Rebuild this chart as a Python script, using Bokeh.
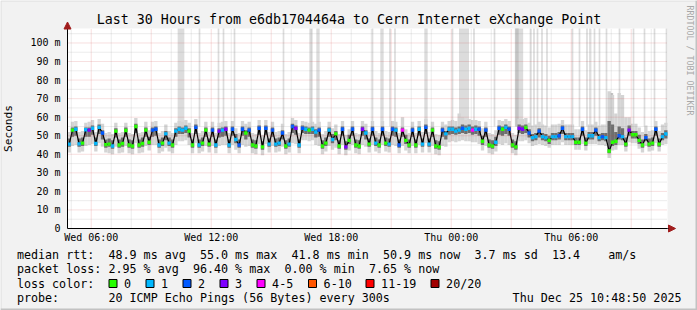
import numpy as np
from bokeh.plotting import figure
from bokeh.models import Range1d, FixedTicker, LinearAxis, Arrow, NormalHead
from bokeh.embed import file_html
from bokeh.resources import INLINE
from bokeh.core.properties import value

FONT = "DejaVu Sans Mono"
BG = "#f2f2f2"
ARROW_COLOR = "#a11d1d"

title_text = "Last 30 Hours from e6db1704464a to Cern Internet eXchange Point"
credit_text = "RRDTOOL / TOBI OETIKER"

# time axis: hours since Wed 00:00; graph ends Thu 10:48:50
start_h = 4 + 48 / 60 + 50 / 3600
span_h = 30.0
step_min = 10
y_top = 107.8

# median rtt (ms) per 10-minute step
median_ms = (
    [45.5, 53.0, 53.5, 45.6, 46.0, 53.2, 53.0, 54.0, 45.8, 54.5, 51.5, 45.2, 45.5, 44.5, 52.5,
     45.0, 45.8, 52.8, 45.0, 44.5, 55.0, 45.0, 45.8, 53.0, 46.5, 53.0, 53.5, 45.0, 46.0, 51.0]
    + [46.0, 45.0, 52.5, 53.5, 53.0, 54.0, 52.5, 45.0, 54.5, 45.0, 46.0, 53.0, 45.5, 53.0, 45.0,
       52.5, 53.0, 53.5, 45.0, 53.5, 48.0, 45.0, 53.5, 51.5, 53.0, 45.0, 44.5, 54.0, 44.0, 54.0]
    + [45.5, 53.0, 45.5, 46.0, 51.5, 44.5, 45.5, 55.0, 54.0, 45.0, 54.0, 53.5, 53.0, 53.5, 52.0,
       53.0, 44.5, 46.0, 53.0, 48.0, 51.0, 44.5, 53.5, 44.0, 47.5, 53.5, 45.0, 44.5, 53.5, 51.5]
    + [45.5, 53.5, 46.0, 45.0, 53.5, 46.0, 45.5, 53.5, 53.0, 45.0, 53.0, 47.5, 45.0, 53.0, 45.0,
       53.5, 45.5, 54.5, 45.5, 53.0, 44.5, 44.0, 53.0, 51.0, 53.5, 53.5, 52.5, 53.0, 54.0, 53.5]
    + [54.0, 53.0, 53.5, 53.5, 47.0, 53.0, 45.0, 44.5, 46.5, 54.0, 53.5, 54.5, 53.5, 45.0, 44.0,
       54.0, 53.5, 54.5, 51.5, 49.0, 49.5, 52.5, 49.5, 49.0, 47.5, 49.5, 49.5, 50.0, 54.0, 49.5]
    + [49.5, 49.5, 46.5, 46.5, 53.5, 46.0, 50.0, 50.0, 53.0, 49.0, 49.5, 49.0, 41.8, 46.5, 47.0,
       50.0, 49.5, 45.5, 53.0, 50.5, 50.5, 47.5, 45.0, 49.0, 45.5, 46.0, 53.5, 45.5, 49.5, 50.9]
)

# lost pings (of 20) per step
lost_pings = (
    [1, 0, 1, 1, 0, 1, 3, 1, 1, 1, 2, 0, 0, 1, 0, 0, 0, 0, 0, 0, 0, 0, 0, 0, 0, 2, 2, 1, 0, 1]
    + [1, 0, 1, 1, 1, 1, 0, 0, 2, 1, 0, 0, 0, 2, 1, 3, 1, 3, 1, 2, 1, 2, 2, 0, 2, 0, 0, 2, 0, 2]
    + [1, 2, 1, 1, 2, 0, 1, 2, 3, 1, 2, 1, 0, 1, 1, 2, 0, 0, 1, 1, 0, 0, 2, 3, 0, 2, 0, 0, 3, 1]
    + [0, 2, 1, 0, 2, 0, 1, 2, 1, 2, 4, 0, 0, 2, 0, 1, 1, 2, 1, 0, 0, 0, 2, 1, 1, 1, 1, 1, 2, 1]
    + [1, 4, 1, 2, 0, 2, 0, 0, 1, 2, 0, 1, 2, 0, 0, 3, 3, 0, 2, 1, 1, 2, 1, 1, 0, 1, 1, 2, 2, 1]
    + [1, 1, 0, 0, 2, 0, 1, 1, 2, 1, 2, 1, 0, 0, 0, 2, 1, 0, 3, 0, 0, 0, 0, 2, 0, 0, 2, 0, 1, 1]
)

# smoke: outer range of the 20 pings (ms)
smoke_min = (
    [41.0, 44.5, 45.0, 41.0, 41.5, 44.5, 45.0, 45.5, 41.5, 46.0, 44.0, 41.0, 40.5, 40.0, 44.0,
     40.5, 41.0, 44.5, 40.5, 40.0, 46.0, 40.5, 41.0, 44.5, 42.0, 45.0, 45.0, 40.5, 41.5, 43.5]
    + [41.5, 40.5, 45.0, 47.0, 47.0, 47.5, 45.0, 40.5, 46.0, 40.5, 41.5, 44.5, 41.0, 44.5, 40.5,
       44.5, 45.0, 45.0, 40.5, 45.0, 42.5, 40.5, 45.0, 44.0, 44.5, 40.5, 40.0, 45.5, 39.5, 45.5]
    + [41.0, 44.5, 41.0, 41.5, 44.0, 40.0, 41.0, 46.0, 45.5, 40.5, 47.5, 47.5, 47.0, 47.5, 45.0,
       44.5, 40.0, 41.5, 44.5, 42.5, 43.5, 40.0, 45.0, 39.5, 42.0, 45.0, 40.5, 40.0, 45.0, 44.0]
    + [41.0, 45.0, 41.5, 40.5, 45.0, 41.5, 41.0, 45.0, 44.5, 40.5, 44.5, 42.0, 40.5, 44.5, 40.5,
       45.0, 41.0, 46.0, 41.0, 44.5, 40.0, 39.5, 44.5, 44.0, 46.5, 47.0, 46.5, 47.0, 47.5, 47.0]
    + [47.0, 46.5, 46.5, 45.5, 42.0, 44.5, 40.5, 40.0, 41.5, 45.5, 45.0, 46.0, 45.0, 40.5, 39.5,
       47.0, 47.0, 47.5, 46.0, 44.5, 45.0, 45.5, 45.0, 44.5, 43.5, 45.0, 45.0, 45.0, 46.5, 45.0]
    + [45.0, 45.0, 42.5, 42.5, 45.5, 42.0, 45.5, 45.5, 45.5, 45.0, 45.0, 44.5, 38.0, 42.0, 42.5,
       45.0, 45.0, 41.5, 46.5, 46.0, 46.0, 43.0, 41.0, 44.5, 41.5, 42.0, 46.0, 41.5, 45.0, 45.5]
)
smoke_max = (
    [52.0, 57.5, 58.0, 52.0, 52.5, 57.0, 57.5, 58.5, 52.0, 59.0, 56.5, 51.5, 52.0, 51.0, 57.0,
     51.5, 52.0, 57.0, 51.5, 51.0, 59.5, 51.5, 52.0, 57.5, 53.0, 57.5, 58.0, 51.5, 52.5, 56.0]
    + [52.5, 51.5, 57.0, 58.0, 57.5, 58.5, 57.0, 51.5, 59.0, 51.5, 52.5, 57.5, 52.0, 57.5, 51.5,
       57.0, 57.5, 58.0, 51.5, 58.0, 54.0, 51.5, 58.0, 56.5, 57.5, 51.5, 51.0, 58.5, 50.5, 58.5]
    + [52.0, 57.5, 52.0, 52.5, 56.5, 51.0, 52.0, 59.5, 58.5, 51.5, 58.0, 57.5, 57.0, 57.5, 56.5,
       57.5, 51.0, 52.5, 57.5, 54.0, 56.0, 51.0, 58.0, 50.5, 53.5, 58.0, 51.5, 51.0, 58.0, 56.5]
    + [52.0, 58.0, 52.5, 51.5, 58.0, 52.5, 52.0, 58.0, 57.5, 51.5, 60.0, 53.5, 51.5, 57.5, 51.5,
       58.0, 52.0, 59.0, 52.0, 57.5, 51.0, 50.5, 57.5, 56.0, 58.0, 58.5, 58.0, 62.0, 60.0, 58.5]
    + [59.0, 58.5, 58.5, 58.0, 54.0, 57.5, 51.5, 51.0, 53.0, 58.5, 58.0, 59.0, 58.0, 51.5, 50.5,
       59.0, 59.0, 59.5, 57.0, 55.5, 56.0, 57.5, 56.0, 55.5, 54.5, 56.0, 56.0, 56.5, 58.5, 56.0]
    + [56.0, 56.0, 53.5, 53.5, 58.0, 53.0, 56.0, 56.0, 57.5, 55.5, 56.0, 56.0, 74.0, 72.0, 62.0,
       73.0, 72.0, 60.0, 60.0, 56.5, 56.5, 54.5, 52.0, 55.5, 52.5, 53.0, 58.0, 52.5, 56.0, 57.0]
)
# smoke: inner (dense) part of the pings (ms)
smoke_core_lo = (
    [44.0, 49.5, 50.0, 44.0, 44.5, 49.5, 49.5, 50.5, 44.5, 51.0, 48.0, 43.5, 44.0, 43.0, 49.0,
     43.5, 44.0, 49.5, 43.5, 43.0, 51.5, 43.5, 44.0, 49.5, 45.0, 49.5, 50.0, 43.5, 44.5, 47.5]
    + [44.5, 43.5, 49.5, 51.0, 51.0, 51.5, 49.0, 43.5, 51.0, 43.5, 44.5, 49.5, 44.0, 49.5, 43.5,
       49.0, 49.5, 50.0, 43.5, 50.0, 46.0, 43.5, 50.0, 48.0, 49.5, 43.5, 43.0, 50.5, 42.5, 50.5]
    + [44.0, 49.5, 44.0, 44.5, 48.0, 43.0, 44.0, 51.5, 50.5, 43.5, 51.5, 51.0, 51.0, 51.0, 49.0,
       49.5, 43.0, 44.5, 49.5, 46.0, 47.5, 43.0, 50.0, 42.5, 45.5, 50.0, 43.5, 43.0, 50.0, 48.0]
    + [44.0, 50.0, 44.5, 43.5, 50.0, 44.5, 44.0, 50.0, 49.5, 43.5, 49.5, 45.5, 43.5, 49.5, 43.5,
       50.0, 44.0, 51.0, 44.0, 49.5, 43.0, 42.5, 49.5, 48.0, 50.5, 51.0, 50.5, 51.0, 51.5, 51.0]
    + [51.5, 50.5, 51.0, 50.0, 45.0, 49.5, 43.5, 43.0, 44.5, 50.5, 50.0, 51.0, 50.0, 43.5, 42.5,
       51.5, 51.0, 51.5, 49.0, 47.0, 47.5, 49.0, 47.5, 47.0, 45.5, 47.5, 47.5, 48.0, 51.0, 47.5]
    + [47.5, 47.5, 45.0, 45.0, 50.0, 44.5, 48.0, 48.0, 50.0, 47.0, 47.5, 47.0, 40.5, 44.5, 45.0,
       48.0, 47.5, 44.0, 50.0, 48.5, 48.5, 45.5, 43.5, 47.0, 44.0, 44.5, 50.0, 44.0, 47.5, 48.5]
)
smoke_core_hi = (
    [48.5, 54.5, 55.0, 48.5, 49.0, 54.5, 54.5, 55.5, 49.0, 56.0, 53.0, 48.0, 48.5, 47.5, 54.0,
     48.0, 49.0, 54.5, 48.0, 47.5, 56.5, 48.0, 49.0, 54.5, 49.5, 54.5, 55.0, 48.0, 49.0, 52.5]
    + [49.0, 48.0, 54.0, 55.0, 54.5, 55.5, 54.0, 48.0, 56.0, 48.0, 49.0, 54.5, 48.5, 54.5, 48.0,
       54.0, 54.5, 55.0, 48.0, 55.0, 51.0, 48.0, 55.0, 53.0, 54.5, 48.0, 47.5, 55.5, 47.0, 55.5]
    + [48.5, 54.5, 48.5, 49.0, 53.0, 47.5, 48.5, 56.5, 55.5, 48.0, 55.5, 55.0, 54.5, 55.0, 53.5,
       54.5, 47.5, 49.0, 54.5, 51.0, 52.5, 47.5, 55.0, 47.0, 50.5, 55.0, 48.0, 47.5, 55.0, 53.0]
    + [48.5, 55.0, 49.0, 48.0, 55.0, 49.0, 48.5, 55.0, 54.5, 48.0, 54.5, 50.5, 48.0, 54.5, 48.0,
       55.0, 48.5, 56.0, 48.5, 54.5, 47.5, 47.0, 54.5, 52.5, 55.0, 55.0, 54.5, 55.0, 56.0, 55.5]
    + [56.0, 55.0, 55.5, 55.0, 50.0, 54.5, 48.0, 47.5, 49.5, 55.5, 55.0, 56.0, 55.0, 48.0, 47.0,
       56.0, 55.5, 56.0, 53.5, 51.0, 51.5, 54.0, 51.5, 51.0, 50.0, 51.5, 51.5, 52.0, 55.5, 51.5]
    + [51.5, 51.5, 49.0, 49.0, 55.0, 49.0, 52.0, 52.0, 54.5, 51.0, 51.5, 51.5, 58.0, 56.0, 52.0,
       55.0, 54.0, 49.0, 55.5, 52.5, 52.5, 50.5, 48.0, 51.0, 48.5, 49.0, 55.0, 48.5, 51.5, 53.0]
)

# steps whose slowest pings go off the top of the scale (hours after start, minutes long)
spike_at_h = [5.675, 6.6, 7.55, 7.8, 8.35, 10.8, 12.175, 12.525, 15.25, 15.725, 16.125, 16.375,
              17.925, 19.25, 19.825, 20.325, 21.35, 22.575, 23.15, 23.325, 23.5, 23.725, 23.975,
              25.25, 25.6, 25.975, 26.125, 26.35, 26.6, 26.95, 27.6, 28.3, 28.85, 29.35, 29.95,
              22.475, 27.2]
spike_len_min = [20, 5, 5, 5, 5, 5, 10, 10, 5, 10, 5, 5,
                 10, 5, 30, 5, 5, 25, 5, 5, 5, 5, 5,
                 5, 5, 5, 5, 5, 5, 5, 5, 5, 5, 5, 5,
                 10, 10]
spike_top_ms = [y_top] * 36 + [73.0]
spike_dense = [0] * 35 + [1, 1]
spike_base_ms = 55.0

x_ticks = [6, 12, 18, 24, 30]
x_tick_labels = ["Wed 06:00", "Wed 12:00", "Wed 18:00", "Thu 00:00", "Thu 06:00"]
y_ticks = [0, 10, 20, 30, 40, 50, 60, 70, 80, 90, 100]
y_tick_labels = ["0", "10 m", "20 m", "30 m", "40 m", "50 m", "60 m", "70 m", "80 m", "90 m", "100 m"]
x_grid_major = [6, 9, 12, 15, 18, 21, 24, 27, 30, 33]
x_grid_minor = [5, 7, 8, 10, 11, 13, 14, 16, 17, 19, 20, 22, 23, 25, 26, 28, 29, 31, 32, 34]
y_grid_major = [10, 20, 30, 40, 50, 60, 70, 80, 90, 100]
y_grid_minor = [5, 15, 25, 35, 45, 55, 65, 75, 85, 95, 105]

loss_labels = ["0", "1", "2", "3", "4-5", "6-10", "11-19", "20/20"]
loss_colors = ["#26ff00", "#00b8ff", "#0059ff", "#7e00ff", "#ff00ff", "#ff5500", "#ff0000", "#a10000"]

rtt_avg, rtt_max, rtt_min, rtt_now, rtt_sd, am_s = 48.9, 55.0, 41.8, 50.9, 3.7, 13.4
loss_avg, loss_max, loss_min, loss_now = 2.95, 96.40, 0.00, 7.65
probe_text = "20 ICMP Echo Pings (56 Bytes) every 300s"
stamp_text = "Thu Dec 25 10:48:50 2025"

# ---------------------------------------------------------------- layout (canvas pixels)
W, H = 697, 310
FR_L, FR_W, FR_TOP, FR_H = 67, 600, 28, 200


def px_x(px):
    return start_h + (px - FR_L) * span_h / FR_W


def px_y(py):
    return (FR_TOP + FR_H - py) * y_top / FR_H


def loss_class(n):
    if n <= 3:
        return n
    if n <= 5:
        return 4
    if n <= 10:
        return 5
    if n <= 19:
        return 6
    return 7


t = start_h + (np.arange(len(median_ms)) + 0.5) * step_min / 60.0
half = step_min / 120.0
x_end = start_h + span_h

p = figure(width=W, height=H, x_range=Range1d(px_x(0), px_x(W)),
           y_range=Range1d(px_y(H), px_y(0)), output_backend="svg", toolbar_location=None,
           min_border=0, x_axis_location=None, y_axis_location=None)
p.title.visible = False
p.background_fill_color = BG
p.border_fill_color = BG
p.outline_line_color = None
p.grid.visible = False

# canvas shading (light top/left, darker bottom/right)
p.segment(x0=[px_x(0.5), px_x(0.5)], y0=[px_y(0.5), px_y(0.5)],
          x1=[px_x(W), px_x(0.5)], y1=[px_y(0.5), px_y(H)],
          line_color="#dcdcdc", line_width=1)
p.segment(x0=[px_x(W - 1), px_x(0)], y0=[px_y(0), px_y(H - 1)],
          x1=[px_x(W - 1), px_x(W)], y1=[px_y(H), px_y(H - 1)],
          line_color="#c2c2c2", line_width=2)

# white graph area
p.quad(left=[start_h], right=[x_end], bottom=[0], top=[y_top], fill_color="white", line_color=None)

# spikes
sp_c = np.array(spike_at_h) + start_h
sp_w = np.array(spike_len_min) / 60.0
p.quad(left=sp_c - sp_w / 2, right=sp_c + sp_w / 2, bottom=spike_base_ms, top=spike_top_ms,
       fill_color=["#c4c4c4" if d else "#dcdcdc" for d in spike_dense], line_color=None)

# smoke
p.quad(left=t - half, right=t + half, bottom=smoke_min, top=smoke_max,
       fill_color="#d4d4d4", line_color=None)
p.quad(left=t - half, right=t + half, bottom=smoke_core_lo, top=smoke_core_hi,
       fill_color="#6e6e6e", line_color=None)

# median line + loss colour marks
p.line(t, median_ms, line_color="#000000", line_width=1.2)
p.scatter(t, median_ms, marker="square", size=3.4, line_color=None,
          fill_color=[loss_colors[loss_class(n)] for n in lost_pings])

# grid (drawn over the graph like rrdtool)
GRID_MINOR, GRID_MAJOR = "#8c8c8c", "#d04040"
p.segment(x0=x_grid_minor, y0=0, x1=x_grid_minor, y1=y_top, line_color=GRID_MINOR,
          line_alpha=0.33, line_dash="1 1", line_width=1)
p.segment(x0=x_grid_major, y0=0, x1=x_grid_major, y1=y_top, line_color=GRID_MAJOR,
          line_alpha=0.33, line_dash="1 1", line_width=1)
p.segment(x0=start_h, y0=y_grid_minor, x1=x_end, y1=y_grid_minor, line_color=GRID_MINOR,
          line_alpha=0.33, line_dash="1 1", line_width=1)
p.segment(x0=start_h, y0=y_grid_major, x1=x_end, y1=y_grid_major, line_color=GRID_MAJOR,
          line_alpha=0.33, line_dash="1 1", line_width=1)

# axes
xax = LinearAxis(fixed_location=0, bounds=(start_h, x_end), ticker=FixedTicker(ticks=x_ticks))
xax.major_label_overrides = dict(zip(x_ticks, x_tick_labels))
yax = LinearAxis(fixed_location=start_h, bounds=(0, y_top), ticker=FixedTicker(ticks=y_ticks))
yax.major_label_overrides = dict(zip(y_ticks, y_tick_labels))
for ax in (xax, yax):
    ax.axis_line_color = "black"
    ax.major_tick_line_color = None
    ax.minor_tick_line_color = None
    ax.major_tick_out = 0
    ax.major_tick_in = 0
    ax.major_label_text_font = FONT
    ax.major_label_text_font_size = "10px"
    ax.major_label_text_color = "black"
xax.major_label_standoff = 3
yax.major_label_standoff = 7
yax.axis_label = "Seconds"
yax.axis_label_text_font = FONT
yax.axis_label_text_font_size = "11.2px"
yax.axis_label_text_font_style = "normal"
yax.axis_label_text_color = "black"
yax.axis_label_standoff = 12
p.add_layout(xax, "below")
p.add_layout(yax, "left")

# axis arrows
p.add_layout(Arrow(end=NormalHead(size=7, fill_color=ARROW_COLOR, line_color=ARROW_COLOR, line_width=1),
                   x_start=x_end, y_start=0, x_end=px_x(675), y_end=0,
                   line_color="black", line_width=1))
p.add_layout(Arrow(end=NormalHead(size=7, fill_color=ARROW_COLOR, line_color=ARROW_COLOR, line_width=1),
                   x_start=start_h, y_start=y_top, x_end=start_h, y_end=px_y(21.5),
                   line_color="black", line_width=1))

# title and credit
p.text(x=[px_x(348.5)], y=[px_y(19)], text=[title_text], text_align="center",
       text_baseline="middle", text_font=value(FONT), text_font_size="13.3px", text_color="black")
p.text(x=[px_x(689)], y=[px_y(5)], text=[credit_text], angle=-np.pi / 2,
       text_align="left", text_baseline="middle", text_font=value(FONT),
       text_font_size="8.3px", text_color="#a8a8a8")

# ---------------------------------------------------------------- legend block
LEFT, CW = 16.4, 7.04
ROWS = [254, 268.5, 283, 297.5]
seg_text, seg_x, seg_y = [], [], []


def put(txt, col, row):
    seg_text.append(txt)
    seg_x.append(px_x(LEFT + col * CW))
    seg_y.append(px_y(ROWS[row]))


put("median rtt:", 0, 0)
put(f"{rtt_avg:.1f} ms avg", 13, 0)
put(f"{rtt_max:.1f} ms max", 26, 0)
put(f"{rtt_min:.1f} ms min", 39, 0)
put(f"{rtt_now:.1f} ms now", 52, 0)
put(f"{rtt_sd:.1f} ms sd", 65, 0)
put(f"{am_s:.1f}", 76, 0)
put("am/s", 84, 0)
put("packet loss:", 0, 1)
put(f"{loss_avg:.2f} % avg", 13, 1)
put(f"{loss_max:.2f} % max", 25, 1)
put(f"{loss_min:.2f} % min", 38, 1)
put(f"{loss_now:.2f} % now", 50, 1)
put("loss color:", 0, 2)
put("probe:", 0, 3)
put(probe_text, 13, 3)

sw_left = [108, 145, 182, 219, 256, 307.5, 365, 430]
for lbl, sx in zip(loss_labels, sw_left):
    seg_text.append(lbl)
    seg_x.append(px_x(sx + 15.6))
    seg_y.append(px_y(ROWS[2]))

p.text(x=seg_x, y=seg_y, text=seg_text, text_font=value(FONT), text_font_size="11.7px",
       text_baseline="middle", text_align="left", text_color="black")
p.text(x=[px_x(681)], y=[px_y(ROWS[3])], text=[stamp_text], text_font=value(FONT),
       text_font_size="11.7px", text_baseline="middle", text_align="right", text_color="black")
p.rect(x=[px_x(s + 4.5) for s in sw_left], y=[px_y(ROWS[2])] * len(sw_left), width=8, height=8,
       width_units="screen", height_units="screen",
       fill_color=loss_colors, line_color="black", line_width=1)

open("out.html", "w").write(file_html(p, INLINE))
